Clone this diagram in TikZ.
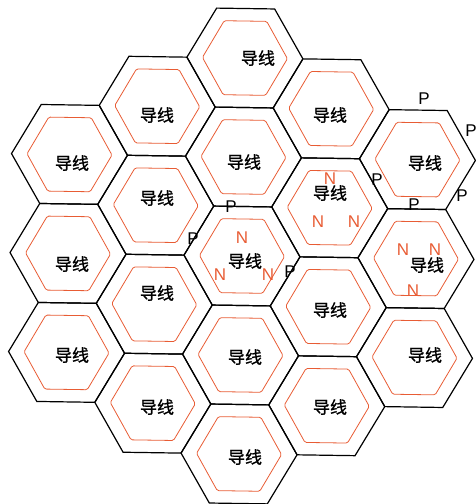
\documentclass[tikz,border=0pt]{standalone}
\usepackage{fontspec}
\setmainfont{Liberation Sans}
\newfontfamily\cjk[FakeBold=1]{Noto Sans CJK SC}
\definecolor{wire}{RGB}{232,92,52}

\begin{document}
\begin{tikzpicture}[x=1pt,y=-1pt,
    cell/.style={draw=black,line width=1.2pt},
    wirecell/.style={draw=wire,line width=0.8pt,rounded corners=1.5pt},
    cname/.style={inner sep=0pt,font=\cjk\fontsize{17}{17}\selectfont},
    plabel/.style={inner sep=0pt,font=\fontsize{17}{17}\selectfont},
    nlabel/.style={inner sep=0pt,text=wire,font=\fontsize{17}{17}\selectfont}]
    \useasboundingbox (0,0) rectangle (475,504);

    % Honeycomb - outer cells and the wire ring inside each
    \begin{scope}[rotate around={-0.85:(242,256)}]
        \foreach \c/\k [count=\i] in {-2/-2,-2/0,-2/2,-1/-3,-1/-1,-1/1,-1/3,
                0/-4,0/-2,0/0,0/2,0/4,1/-3,1/-1,1/1,1/3,2/-2,2/0,2/2} {
            \coordinate (hex\i) at ({242+87*\c},{256+49.5*\k});
            \draw[cell] (hex\i) ++(-58,0) -- ++(29,-49.5) -- ++(58,0)
                -- ++(29,49.5) -- ++(-29,49.5) -- ++(-58,0) -- cycle;
            \draw[wirecell] (hex\i) ++(-42.5,0) -- ++(21.25,-37) -- ++(42.5,0)
                -- ++(21.25,37) -- ++(-21.25,37) -- ++(-42.5,0) -- cycle;
        }
    \end{scope}

    % Cell names
    \foreach \x/\y [count=\i] in {258/58,157/115,330/115,72/163,244/162,425/163,
            157/198,330/193,72/264,245/261,427/265,157/293,330/310,
            72/355,245/357,425/355,157/407,330/407,245/457} {
        \node[cname] (name\i) at (\x,\y) {导线};
    }

    % P marks on the edges
    \foreach \x/\y [count=\i] in {424/99,471/131,377/180,414/205,462/196,
            231/207,193/239,290/272} {
        \node[plabel] (p\i) at (\x,\y) {P};
    }

    % N marks inside three cells
    \foreach \x/\y [count=\i] in {330/179,318/222,354/222,242/238,220/275,
            268/275,403/250,435/250,413/291} {
        \node[nlabel] (n\i) at (\x,\y) {N};
    }
\end{tikzpicture}
\end{document}
